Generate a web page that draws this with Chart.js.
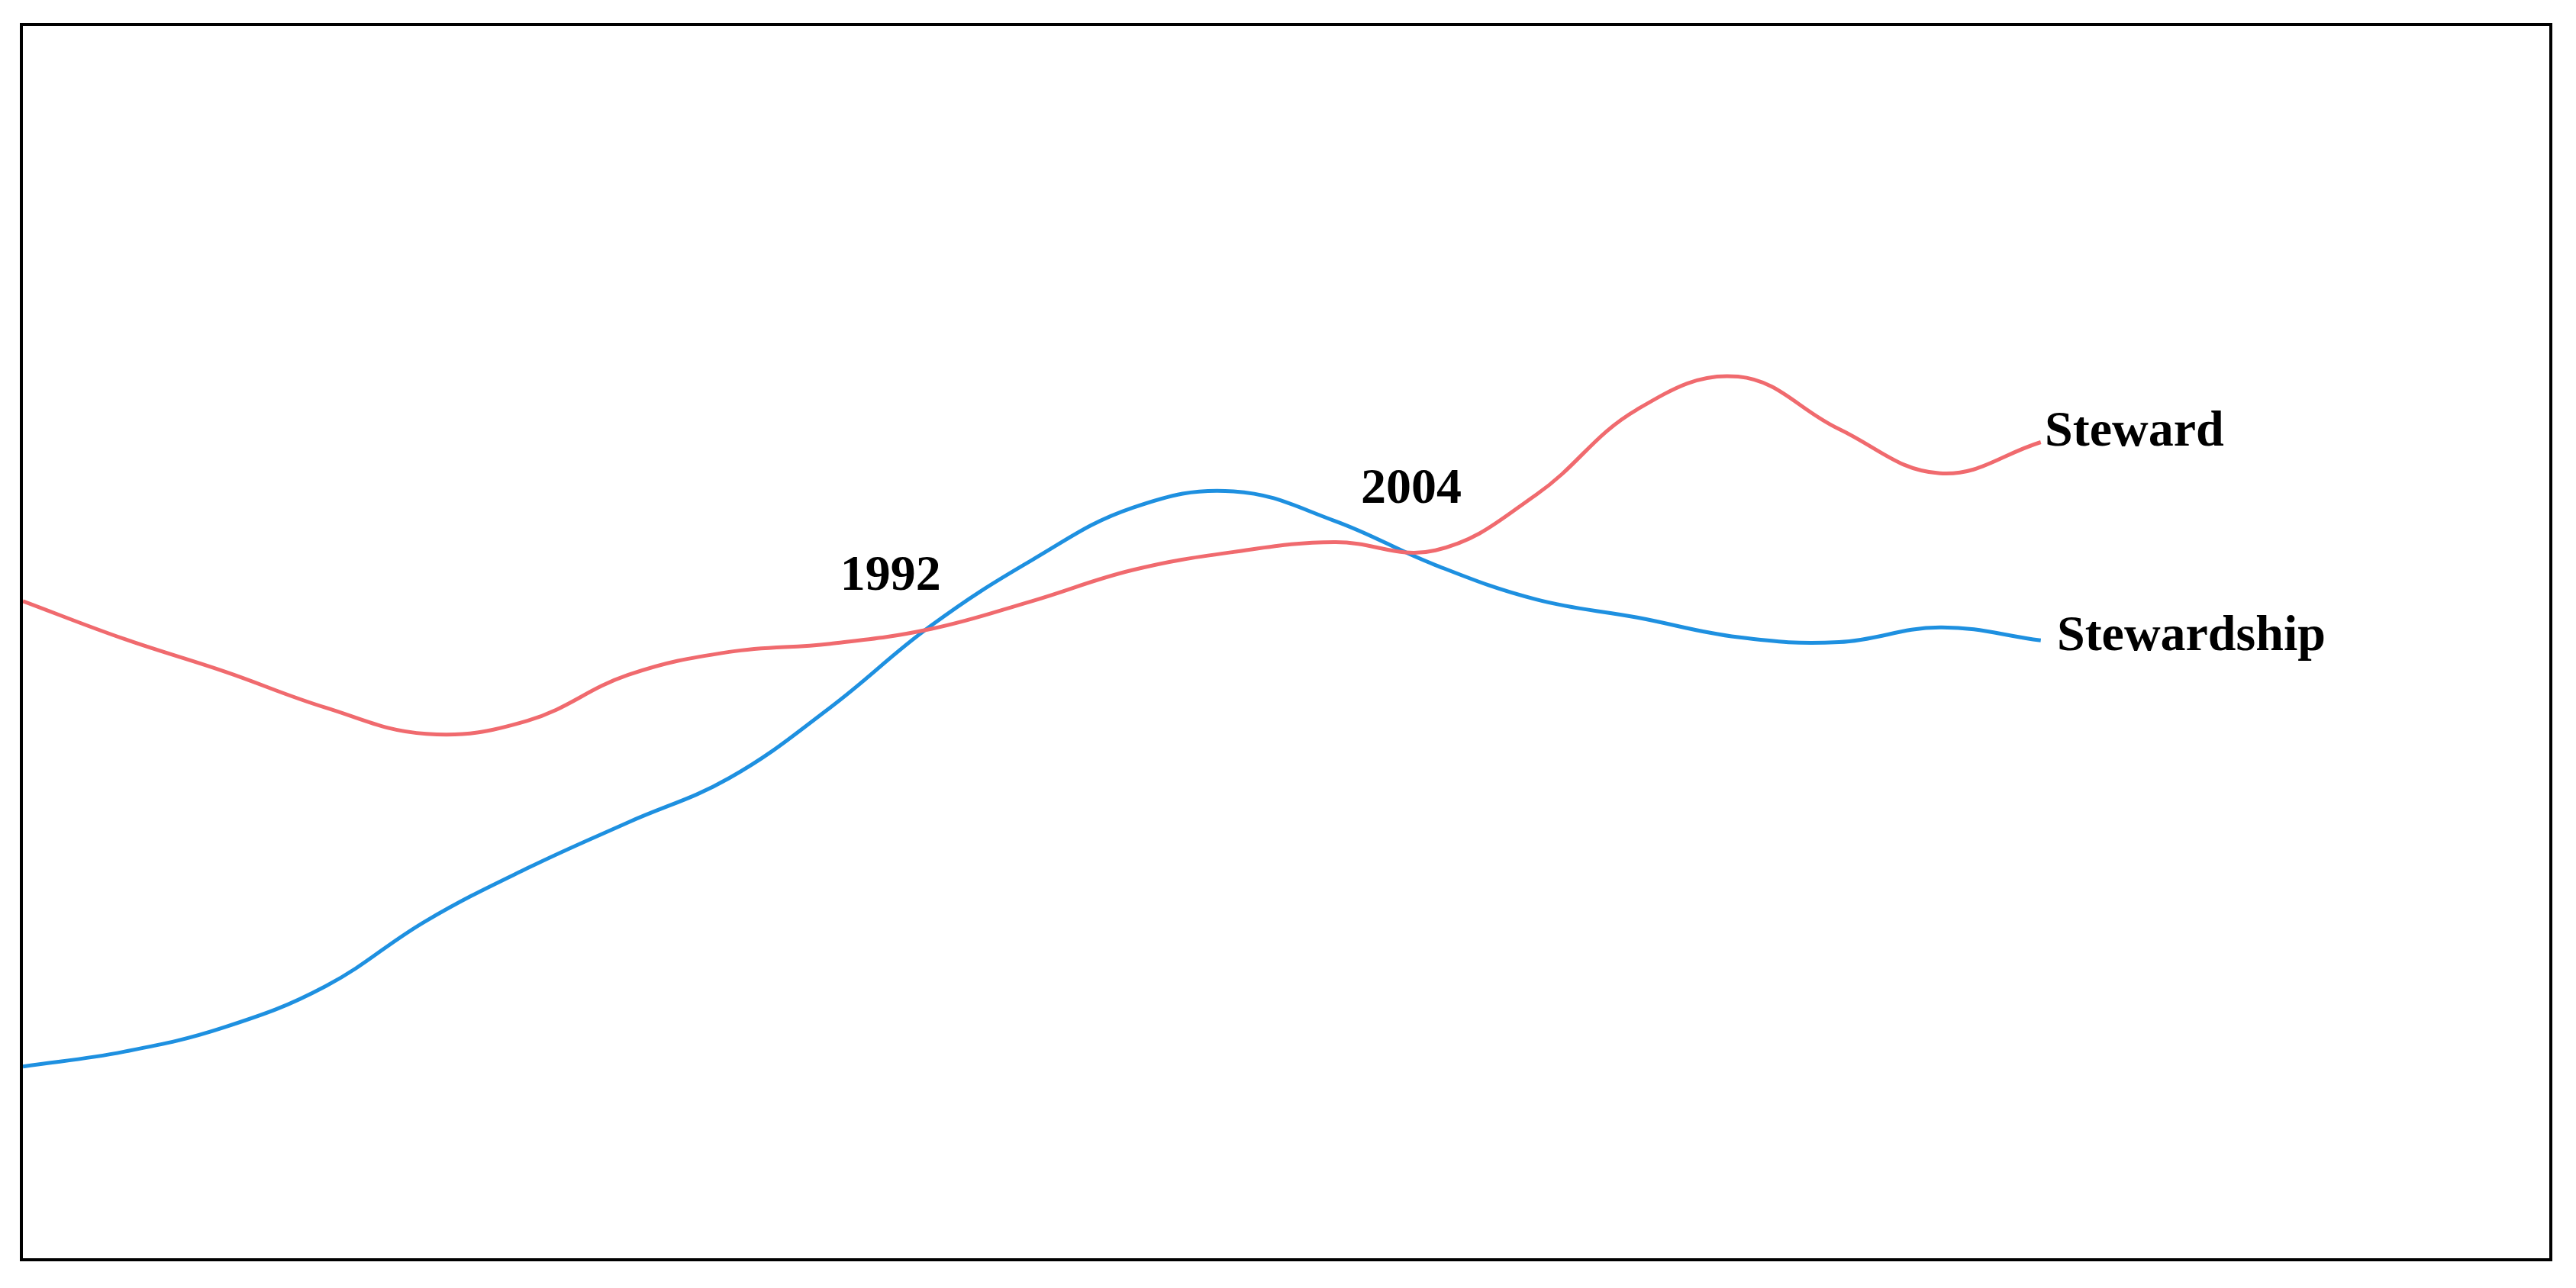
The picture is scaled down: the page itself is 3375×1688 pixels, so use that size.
<!DOCTYPE html>
<html>
<head>
<meta charset="utf-8">
<script src="https://cdn.jsdelivr.net/npm/chart.js@4/dist/chart.umd.min.js"></script>
<style>
  html, body { margin: 0; padding: 0; background: #fff; }
  #frame { position: absolute; left: 26px; top: 30px; width: 3310px; height: 1615px; border: 4px solid #000; }
  #chart { display: block; }
</style>
</head>
<body>
<div id="frame"><canvas id="chart" width="3310" height="1615"></canvas></div>
<script>
const years = [1970, 1972.5, 1975, 1977.5, 1980, 1982.5, 1985, 1987.5, 1990, 1992.5, 1995,
  1997.5, 2000, 2002.5, 2005, 2007.5, 2010, 2012.5, 2015, 2017.5, 2020];
const steward = [401, 378, 358, 336, 320, 328, 356, 370, 375, 384, 401, 420, 431, 437, 432, 466, 518, 538, 506, 479, 498];
const stewardship = [117, 126, 141, 166, 206, 238, 266, 293, 336, 386, 426, 458, 468, 450, 423, 402, 391, 379, 376, 385, 377];

// text labels: [text, year, value, align]
const labels = [
  ['1992', 1991.5, 416, 'center'],
  ['2004', 2004.4, 469, 'center'],
  ['Steward', 2020.1, 504, 'left'],
  ['Stewardship', 2020.4, 379, 'left']
];

const textPlugin = {
  id: 'textLabels',
  afterDatasetsDraw(chart) {
    const ctx = chart.ctx;
    const xs = chart.scales.x, ys = chart.scales.y;
    ctx.save();
    ctx.font = 'bold 66px "Liberation Serif", "DejaVu Serif", serif';
    ctx.fillStyle = '#000';
    ctx.textBaseline = 'middle';
    labels.forEach(([t, x, y, a]) => {
      ctx.textAlign = a;
      ctx.fillText(t, xs.getPixelForValue(x), ys.getPixelForValue(y));
    });
    ctx.restore();
  }
};

new Chart(document.getElementById('chart'), {
  type: 'line',
  data: {
    datasets: [
      { label: 'Steward', data: years.map((x, i) => ({ x, y: steward[i] })),
        borderColor: '#f06a6e', borderWidth: 5, pointRadius: 0, tension: 0.4, fill: false },
      { label: 'Stewardship', data: years.map((x, i) => ({ x, y: stewardship[i] })),
        borderColor: '#1e90e0', borderWidth: 5, pointRadius: 0, tension: 0.4, fill: false }
    ]
  },
  options: {
    responsive: false,
    animation: false,
    layout: { padding: 0 },
    plugins: { legend: { display: false }, tooltip: { enabled: false } },
    scales: {
      x: { type: 'linear', min: 1970, max: 2032.6, display: false },
      y: { min: 0, max: 752, display: false }
    }
  },
  plugins: [textPlugin]
});
</script>
</body>
</html>
